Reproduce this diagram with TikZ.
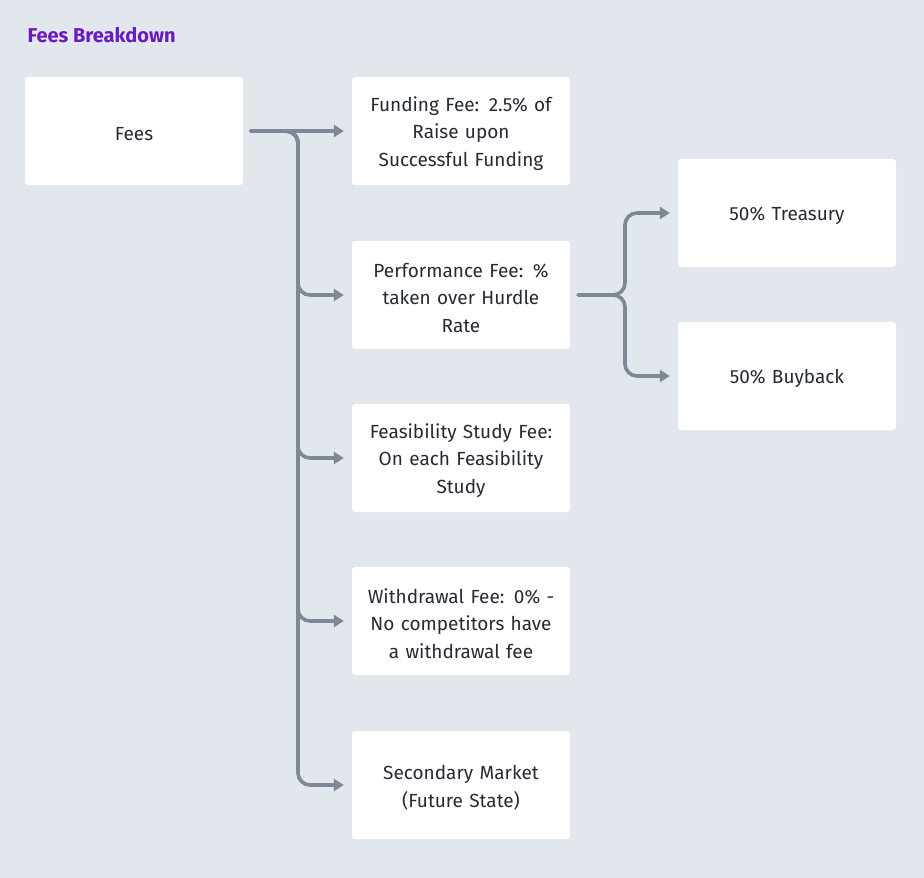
\documentclass[tikz,border=0pt]{standalone}
\usepackage{fontspec}
\setmainfont{Fira Sans}
\usetikzlibrary{arrows.meta}
\definecolor{bg}{HTML}{E2E6ED}
\definecolor{conncol}{HTML}{7F8896}
\definecolor{txt}{HTML}{252B36}
\definecolor{ttl}{HTML}{6A1BC0}
\tikzset{
  box/.style={fill=white, rounded corners=3pt, minimum width=218pt, minimum height=108pt,
    text width=210pt, align=center, text=txt, font=\fontsize{19}{27.5}\selectfont, inner sep=0pt,
    execute at begin node={\rule{0pt}{20pt}}},
  conn/.style={draw=conncol, line width=3.6pt, rounded corners=12pt, line cap=round,
    -{Triangle[length=10pt,width=12pt]}, shorten <=8pt, shorten >=8pt},
}
\begin{document}
\begin{tikzpicture}[x=1pt,y=-1pt]
\fill[bg] (0,0) rectangle (924,878);
\useasboundingbox (0,0) rectangle (924,878);
\node[anchor=west, text=ttl, font=\fontsize{20}{24}\selectfont\bfseries] (title) at (24,35) {Fees Breakdown};
\node[box] (fees) at (134,131) {Fees};
\node[box] (fund) at (461,131) {Funding Fee: 2.5\% of\\Raise upon\\Successful Funding};
\node[box] (perf) at (461,295) {Performance Fee: \%\\taken over Hurdle\\Rate};
\node[box] (feas) at (461,458) {Feasibility Study Fee:\\On each Feasibility\\Study};
\node[box] (with) at (461,621) {Withdrawal Fee: 0\% -\\No competitors have\\a withdrawal fee};
\node[box] (sec) at (461,785) {Secondary Market\\(Future State)};
\node[box] (treas) at (787,213) {50\% Treasury};
\node[box] (buy) at (787,376) {50\% Buyback};
\coordinate (j1) at (298,131);
\coordinate (j2) at (625,295);
\draw[conn] (fees.east) -- (fund.west);
\draw[conn] (fees.east) -- (j1) |- (perf.west);
\draw[conn] (fees.east) -- (j1) |- (feas.west);
\draw[conn] (fees.east) -- (j1) |- (with.west);
\draw[conn] (fees.east) -- (j1) |- (sec.west);
\draw[conn] (perf.east) -- (j2) |- (treas.west);
\draw[conn] (perf.east) -- (j2) |- (buy.west);
\end{tikzpicture}
\end{document}
